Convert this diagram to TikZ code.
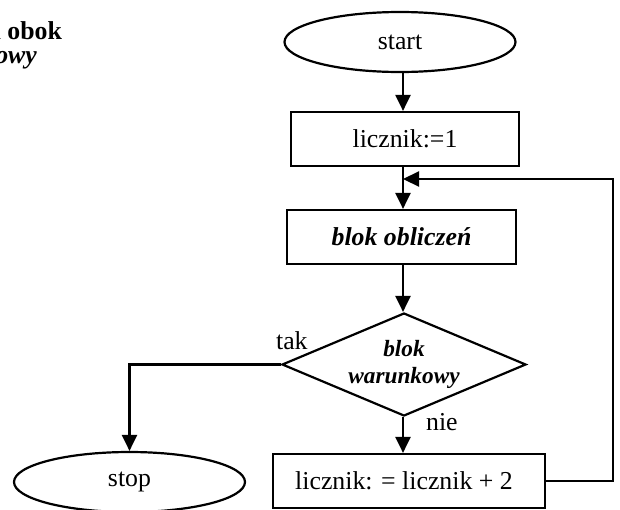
\documentclass[tikz,border=0pt]{standalone}
\usepackage{fontspec}
\setmainfont{Liberation Serif}
\usetikzlibrary{shapes.geometric,arrows.meta}
\newcommand\mainsz{\fontsize{25.8pt}{31pt}\selectfont}
\newcommand\decsz{\fontsize{23.3pt}{26.7pt}\selectfont}
\tikzset{
  term/.style={draw, ellipse, minimum width=231pt, minimum height=60pt, inner sep=0pt, font=\mainsz},
  box/.style={draw, rectangle, minimum height=54pt, inner sep=0pt, font=\mainsz},
  dec/.style={draw, diamond, aspect=2.37, minimum width=244pt, minimum height=103pt, inner sep=0pt, align=center, font=\decsz\bfseries\itshape},
  lbl/.style={inner sep=0pt, font=\mainsz},
  arr/.style={-{Triangle[length=16pt,width=15pt]}},
}
\begin{document}
\begin{tikzpicture}[x=1pt,y=-1pt,line width=2.2pt]
\useasboundingbox (0,0) rectangle (620,509);
\clip (0,0) rectangle (620,509);
% heading fragments
\node[lbl, anchor=base east, font=\mainsz\bfseries] (h1) at (63,39) {a obok};
\node[lbl, anchor=base east, font=\mainsz\bfseries\itshape] (h2) at (38,63) {owy};
% nodes
\coordinate (col) at (403,0);
\node[term] (start) at (400,42) {start};
\node[box, minimum width=228pt] (init) at (405,139) {licznik:=1};
\node[box, minimum width=229pt, font=\mainsz\bfseries\itshape] (calc) at (401.5,237) {blok obliczeń};
\node[dec] (cond) at (404,364.5) {blok\\warunkowy};
\node[box, minimum width=272pt] (upd) at (409,481) {licznik: = licznik + 2\hspace*{10pt}};
\node[term] (stop) at (129.5,482) {stop};
\coordinate (join) at (403,179);
\coordinate (rt) at (613,179);
% labels
\node[lbl, anchor=base west] (tak) at (275,349) {tak};
\node[lbl, anchor=base west] (nie) at (425,430) {nie};
% connectors
\draw[arr] (start.south -| col) -- (init.north -| col);
\draw (init.south -| col) -- (join);
\draw[arr] (join) -- (calc.north -| col);
\draw[arr] (calc.south -| col) -- (cond.north -| col);
\draw[arr] (cond.south -| col) -- (upd.north -| col);
\draw[arr] (cond.west) -| (stop.north);
\draw[arr] (upd.east) -| (rt) -- (join);
\end{tikzpicture}
\end{document}
